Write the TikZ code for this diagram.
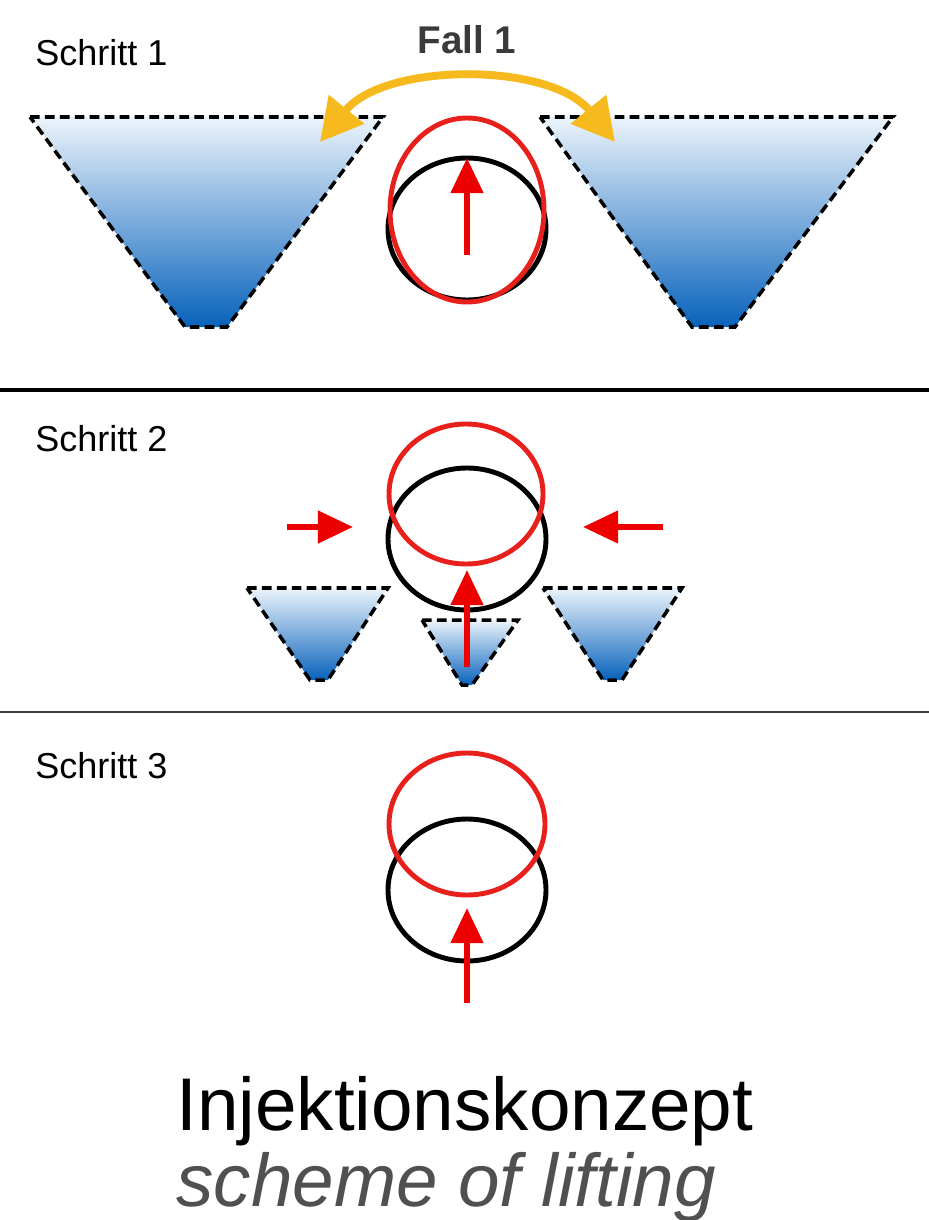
\documentclass[tikz,border=0pt]{standalone}
\usepackage{fontspec}
\setmainfont{Liberation Sans}
\usetikzlibrary{arrows.meta,calc}
\usepackage{tkz-euclide}
\definecolor{TankTopClr}{RGB}{236,244,251}
\definecolor{TankBotClr}{RGB}{8,98,188}
\definecolor{RingClr}{RGB}{232,32,28}
\definecolor{PushClr}{RGB}{236,0,0}
\definecolor{SwingClr}{RGB}{246,186,30}
\definecolor{FallClr}{RGB}{58,58,58}
\definecolor{SubClr}{RGB}{80,80,80}

\begin{document}
\begin{tikzpicture}[x=0.02cm,y=-0.02cm,
  tank/.style={top color=TankTopClr,bottom color=TankBotClr},
  rim/.style={black,line width=2pt,dash pattern=on 5.5pt off 3pt},
  ring/.style={line width=2.8pt},
  push/.style={PushClr,line width=3.4pt,-{Triangle[length=20pt,width=18pt]}},
  swing/.style={SwingClr,line width=4.5pt,{Triangle[length=24pt,width=25pt]}-{Triangle[length=24pt,width=25pt]}},
  steplbl/.style={font=\fontsize{20.5}{24}\selectfont,anchor=base west,inner sep=0pt}]
\useasboundingbox (0,0) rectangle (929,1220);

\tkzDefPoints{30/117/A,383/117/B,227/327/C,185/327/D}
\tkzDefPoints{540/117/E,893/117/F,735/327/G,692/327/H}
\tkzDefPoints{247/588/I,388/588/J,328/680/K,310/680/L}
\tkzDefPoints{422/620/M,518/620/N,472/685/O,462/685/P}
\tkzDefPoints{543/588/Q,682/588/R,622/680/S,603/680/T}
\tkzDefPoints{0/390/W1,929/390/W2,0/712/W3,929/712/W4}
\tkzDefPoints{320/142/U,615/142/V}
\tkzDefPoints{467/255/a1,467/158/b1,287/527/a2,353/527/b2,663/527/a3,583/527/b3}
\tkzDefPoints{467/667/a4,467/570/b4,467/1003/a5,467/908/b5}

% Schritt 1
\shade[tank] (A)--(B)--(C)--(D)--cycle;
\shade[tank] (E)--(F)--(G)--(H)--cycle;
\draw[rim] (A)--(B)--(C)--(D)--cycle;
\draw[rim] (E)--(F)--(G)--(H)--cycle;
\draw[ring] (467,229) ellipse [x radius=79, y radius=71];
\draw[ring,RingClr] (467,210) ellipse [x radius=77, y radius=92];
\draw[push] (a1) -- (b1);
\draw[swing] (U) .. controls (385,62) and (550,62) .. (V);
\node[steplbl] (s1) at (35,66) {Schritt 1};
\node[font=\fontsize{22}{26}\selectfont\bfseries,text=FallClr,anchor=base,inner sep=0pt] (fall) at (467,54) {Fall 1};

\draw[line width=2.3pt] (W1) -- (W2);

% Schritt 2
\shade[tank] (I)--(J)--(K)--(L)--cycle;
\shade[tank] (M)--(N)--(O)--(P)--cycle;
\shade[tank] (Q)--(R)--(S)--(T)--cycle;
\draw[rim] (I)--(J)--(K)--(L)--cycle;
\draw[rim] (M)--(N)--(O)--(P)--cycle;
\draw[rim] (Q)--(R)--(S)--(T)--cycle;
\draw[ring] (467,539) ellipse [x radius=79, y radius=71];
\draw[ring,RingClr] (466,494) ellipse [x radius=77, y radius=70];
\draw[push] (a2) -- (b2);
\draw[push] (a3) -- (b3);
\draw[push] (a4) -- (b4);
\node[steplbl] (s2) at (35,451) {Schritt 2};

\draw[line width=1.3pt,FallClr] (W3) -- (W4);

% Schritt 3
\draw[ring] (467,890) ellipse [x radius=79, y radius=71];
\draw[ring,RingClr] (467,824) ellipse [x radius=78, y radius=71];
\draw[push] (a5) -- (b5);
\node[steplbl] (s3) at (35,778) {Schritt 3};

\node[font=\fontsize{42.5}{48}\selectfont,anchor=base west,inner sep=0pt] (title) at (176,1130) {Injektionskonzept};
\node[font=\fontsize{42.5}{48}\selectfont\itshape,text=SubClr,anchor=base west,inner sep=0pt] (sub) at (176,1206) {scheme of lifting};
\end{tikzpicture}
\end{document}
